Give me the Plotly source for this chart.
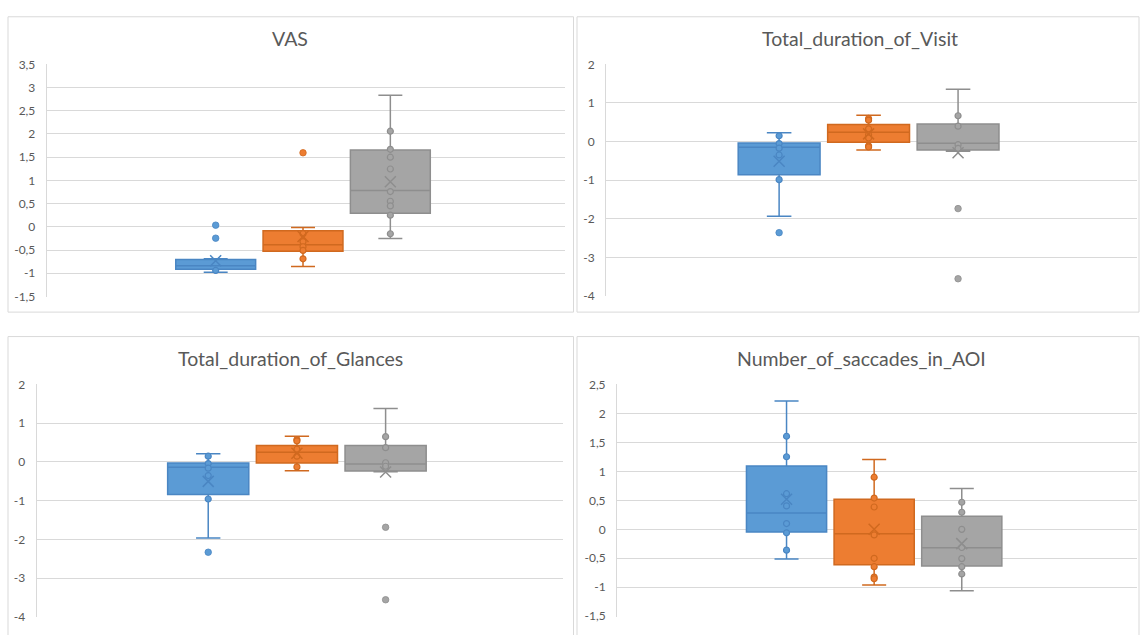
import plotly.graph_objects as go

W, H = 1140, 635

# ---------------- data ----------------
titles = ["VAS", "Total_duration_of_Visit", "Total_duration_of_Glances", "Number_of_saccades_in_AOI"]
series_names = ["Series 1", "Series 2", "Series 3"]

# VAS
vas_q1 = [-0.917, -0.525, 0.294]
vas_median = [-0.84, -0.385, 0.78]
vas_q3 = [-0.707, -0.084, 1.653]
vas_lower = [-0.98, -0.854, -0.252]
vas_upper = [-0.69, -0.014, 2.836]
vas_mean = [-0.73, -0.21, 0.97]
vas_inner = [[-0.94], [-0.15, -0.32, -0.43, -0.51, -0.69], [2.06, 1.67, 1.50, 1.245, 0.76, 0.55, 0.45, 0.25, -0.15]]
vas_outliers = [[0.035, -0.245], [1.595], []]

# Total_duration_of_Visit
visit_q1 = [-0.86, -0.017, -0.22]
visit_median = [-0.143, 0.244, -0.045]
visit_q3 = [-0.034, 0.446, 0.455]
visit_lower = [-1.93, -0.22, -0.25]
visit_upper = [0.227, 0.68, 1.355]
visit_mean = [-0.51, 0.2, -0.29]
visit_inner = [[0.15, -0.05, -0.17, -0.345, -0.985], [0.6, 0.556, 0.33, 0.177, 0.093, -0.11, -0.14], [0.67, 0.4, -0.08, -0.177]]
visit_outliers = [[-2.357], [], [-1.734, -3.55]]

# Total_duration_of_Glances
glance_q1 = [-0.84, -0.025, -0.235]
glance_median = [-0.134, 0.252, -0.05]
glance_q3 = [-0.025, 0.428, 0.428]
glance_lower = [-1.963, -0.227, -0.25]
glance_upper = [0.21, 0.663, 1.384]
glance_mean = [-0.50, 0.226, -0.26]
glance_inner = [[0.15, -0.04, -0.16, -0.35, -0.956], [0.58, 0.545, 0.33, 0.15, -0.126], [0.654, 0.37, -0.02, -0.11]]
glance_outliers = [[-2.33], [], [-1.686, -3.557]]

# Number_of_saccades_in_AOI
sacc_q1 = [-0.045, -0.612, -0.634]
sacc_median = [0.28, -0.075, -0.32]
sacc_q3 = [1.092, 0.52, 0.226]
sacc_lower = [-0.51, -0.96, -1.06]
sacc_upper = [2.215, 1.205, 0.703]
sacc_mean = [0.52, 0.0, -0.247]
sacc_inner = [[1.607, 1.253, 0.615, 0.405, 0.1, -0.06, -0.359],
              [0.9, 0.54, 0.386, -0.097, -0.5, -0.645, -0.825, -0.853],
              [0.468, 0.295, 0.0, -0.314, -0.505, -0.645, -0.77]]
sacc_outliers = [[], [], []]

# tick values / labels
vas_ticks = [-1.5, -1, -0.5, 0, 0.5, 1, 1.5, 2, 2.5, 3, 3.5]
vas_labels = ["-1,5", "-1", "-0,5", "0", "0,5", "1", "1,5", "2", "2,5", "3", "3,5"]
dur_ticks = [-4, -3, -2, -1, 0, 1, 2]
dur_labels = ["-4", "-3", "-2", "-1", "0", "1", "2"]
sacc_ticks = [-1.5, -1, -0.5, 0, 0.5, 1, 1.5, 2, 2.5]
sacc_labels = ["-1,5", "-1", "-0,5", "0", "0,5", "1", "1,5", "2", "2,5"]

# ---------------- styling ----------------
fills = ["#5B9BD5", "#ED7D31", "#A5A5A5"]
edges = ["#4A86C3", "#D0691F", "#8E8E8E"]
text_color = "#595959"
grid_color = "#D9D9D9"
FONT = "Lato"

panels = [
    dict(q1=vas_q1, med=vas_median, q3=vas_q3, lo=vas_lower, hi=vas_upper, mean=vas_mean,
         inner=vas_inner, out=vas_outliers, ticks=vas_ticks, labels=vas_labels,
         plot=(46.7, 565, 58.3, 296.3), frame=(8, 573.5, 10, 312), title_xy=(290, 32)),
    dict(q1=visit_q1, med=visit_median, q3=visit_q3, lo=visit_lower, hi=visit_upper, mean=visit_mean,
         inner=visit_inner, out=visit_outliers, ticks=dur_ticks, labels=dur_labels,
         plot=(606, 1137, 58.3, 296.0), frame=(577, 1139, 10, 312), title_xy=(860, 32)),
    dict(q1=glance_q1, med=glance_median, q3=glance_q3, lo=glance_lower, hi=glance_upper, mean=glance_mean,
         inner=glance_inner, out=glance_outliers, ticks=dur_ticks, labels=dur_labels,
         plot=(36.6, 563, 385.7, 624.0), frame=(8, 573.5, 337, 660), title_xy=(290, 359)),
    dict(q1=sacc_q1, med=sacc_median, q3=sacc_q3, lo=sacc_lower, hi=sacc_upper, mean=sacc_mean,
         inner=sacc_inner, out=sacc_outliers, ticks=sacc_ticks, labels=sacc_labels,
         plot=(617, 1137, 385.7, 623.3), frame=(577, 1139, 337, 660), title_xy=(861, 359)),
]


def py(y_px):
    """pixel from top -> paper fraction"""
    return 1 - y_px / H


fig = go.Figure()
layout = dict(width=W, height=H, margin=dict(l=0, r=0, t=0, b=0),
              paper_bgcolor="white", plot_bgcolor="white", showlegend=False)
shapes, annotations = [], []

for k, p in enumerate(panels):
    sfx = "" if k == 0 else str(k + 1)
    xa, ya = "x" + sfx, "y" + sfx
    for i in range(3):
        pos = i + 1
        fig.add_trace(go.Box(
            x=[pos], q1=[p["q1"][i]], median=[p["med"][i]], q3=[p["q3"][i]],
            lowerfence=[p["lo"][i]], upperfence=[p["hi"][i]],
            width=0.915, whiskerwidth=0.3, boxpoints=False,
            fillcolor=fills[i], line=dict(color=edges[i], width=1.5),
            name=series_names[i], xaxis=xa, yaxis=ya, hoverinfo="skip"))
        # inner points
        fig.add_trace(go.Scatter(
            x=[pos] * len(p["inner"][i]), y=p["inner"][i], mode="markers",
            marker=dict(symbol="circle", size=6, color=fills[i], line=dict(color=edges[i], width=1.2)),
            xaxis=xa, yaxis=ya, hoverinfo="skip"))
        # outliers
        fig.add_trace(go.Scatter(
            x=[pos] * len(p["out"][i]), y=p["out"][i], mode="markers",
            marker=dict(symbol="circle", size=6.5, color=fills[i], line=dict(color=edges[i], width=0.8)),
            xaxis=xa, yaxis=ya, hoverinfo="skip"))
        # mean marker
        fig.add_trace(go.Scatter(
            x=[pos], y=[p["mean"][i]], mode="markers",
            marker=dict(symbol="x-thin", size=11, color=edges[i], line=dict(color=edges[i], width=1.5)),
            xaxis=xa, yaxis=ya, hoverinfo="skip"))

    x0, x1, y0, y1 = p["plot"]
    layout["xaxis" + sfx] = dict(domain=[x0 / W, x1 / W], range=[-0.935, 5.0], anchor=ya,
                                 showgrid=False, zeroline=False, showline=False,
                                 showticklabels=False, fixedrange=True)
    span = p["ticks"][-1] - p["ticks"][0]
    eps = span * 0.0015
    layout["yaxis" + sfx] = dict(domain=[py(y1), py(y0)],
                                 range=[p["ticks"][0] - eps, p["ticks"][-1] + eps], anchor=xa,
                                 tickvals=p["ticks"], ticktext=p["labels"],
                                 showgrid=True, gridcolor=grid_color, gridwidth=1,
                                 zeroline=False, showline=True, linecolor=grid_color, linewidth=1,
                                 ticks="", ticklabelstandoff=8,
                                 tickfont=dict(family=FONT, size=12, color=text_color))
    fx0, fx1, fy0, fy1 = p["frame"]
    shapes.append(dict(type="rect", xref="paper", yref="paper",
                       x0=fx0 / W, x1=fx1 / W, y0=py(fy1), y1=py(fy0),
                       line=dict(color=grid_color, width=1), fillcolor="rgba(0,0,0,0)", layer="below"))
    tx, ty = p["title_xy"]
    annotations.append(dict(text=titles[k], xref="paper", yref="paper", x=tx / W, y=py(ty),
                            xanchor="center", yanchor="middle", showarrow=False,
                            font=dict(family=FONT, size=19.5, color=text_color)))

layout["shapes"] = shapes
layout["annotations"] = annotations
fig.update_layout(**layout)
fig.write_html("out.html")
